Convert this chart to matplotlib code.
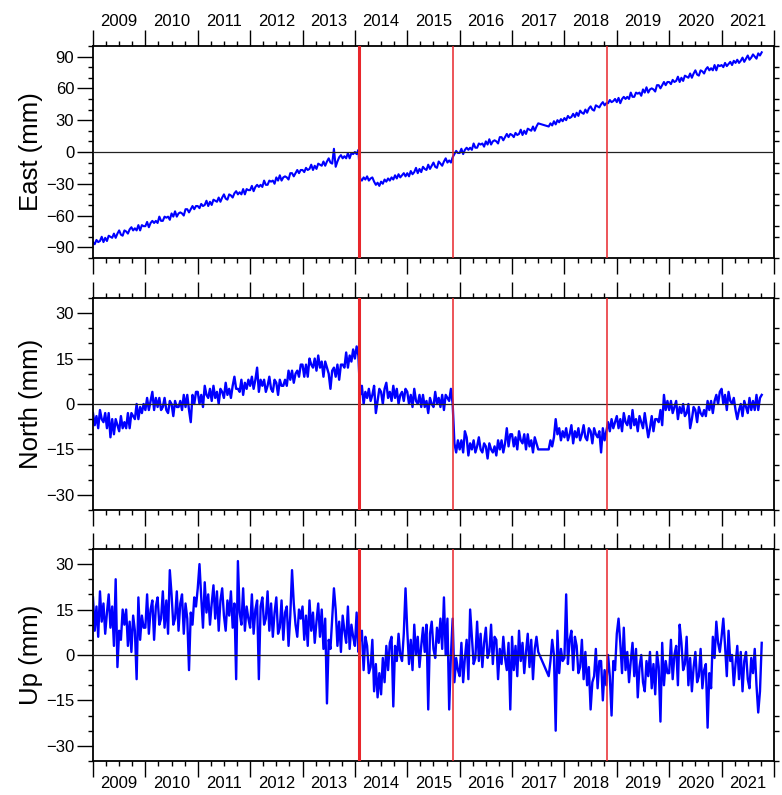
import numpy as np
import matplotlib.pyplot as plt
from matplotlib.ticker import MultipleLocator

plt.rcParams['font.family'] = ['Liberation Sans', 'DejaVu Sans']

nan = np.nan

# 30 samples per year starting 2009.0 (one row per year)
per_year = 30
year_labels = list(range(2009, 2022))
breaks = [2014.08, 2015.88, 2018.82]
break_widths = [2.2, 1.1, 1.1]

east = [
    -85, -87, -83, -85, -84, -80, -85, -81, -84, -79, -80, -81, -77, -81, -77, -74, -78, -79, -74, -75, -77, -73, -71, -74, -72, -74, -69, -74, -69, -70,
    -70, -66, -71, -67, -65, -67, -65, -67, -61, -65, -65, -61, -62, -61, -64, -58, -61, -56, -61, -58, -57, -58, -60, -54, -54, -57, -54, -51, -54, -51,
    -51, -53, -49, -51, -50, -46, -51, -47, -50, -45, -46, -47, -43, -47, -43, -40, -44, -45, -40, -41, -43, -39, -37, -40, -38, -40, -35, -40, -35, -36,
    -36, -32, -37, -33, -31, -33, -31, -33, -27, -31, -31, -27, -28, -27, -30, -24, -27, -22, -27, -24, -23, -24, -26, -20, -20, -23, -20, -17, -20, -17,
    -17, -19, -15, -17, -16, -12, -17, -13, -16, -11, -12, -13, -9, -13, -9, -6, -10, -11, 3, -14, -9, -5, -3, -6, -4, -6, -1, -6, -1, -2,
    0, -2, 2, -25, -27, -24, -26, -23, -27, -25, -24, -28, -31, -29, -32, -28, -30, -26, -28, -25, -27, -24, -26, -22, -25, -21, -24, -22, -20, -23,
    -20, -23, -18, -21, -19, -15, -20, -16, -19, -14, -16, -17, -12, -16, -13, -10, -14, -15, -9, -11, -13, -9, -6, -10, -8, -10, -5, -2, 1, -1,
    -1, 3, -2, 2, 4, 2, 4, 2, 8, 4, 4, 8, 7, 8, 5, 10, 7, 12, 7, 10, 11, 10, 8, 14, 14, 11, 14, 17, 14, 17,
    16, 14, 18, 16, 17, 21, 16, 20, 17, 22, 21, 20, 24, 20, 24, 27, nan, nan, nan, nan, nan, 24, 27, 25, 29, 26, 30, 28, 31, 29,
    32, 30, 34, 32, 33, 36, 33, 37, 34, 39, 37, 36, 40, 37, 41, 43, 40, 39, 44, 43, 42, 45, 47, 44, 46, 46, 49, 47, 48, 50,
    47, 51, 46, 50, 52, 50, 52, 50, 56, 52, 52, 56, 55, 56, 53, 59, 56, 61, 56, 59, 60, 59, 57, 63, 63, 60, 63, 66, 63, 66,
    66, 64, 68, 66, 67, 71, 66, 70, 67, 72, 71, 70, 74, 70, 74, 77, 73, 72, 77, 76, 74, 78, 80, 77, 79, 77, 82, 77, 82, 81,
    82, 80, 84, 81, 83, 85, 82, 86, 84, 87, 84, 86, 89, 85, 88, 91, 87, 89, 92, 90, 88, 93, 91, 94,
]

north = [
    -3, -7, -4, -8, -2, -5, -6, -3, -8, -3, -11, -5, -10, -5, -7, -9, -4, -8, -6, -8, -3, -8, -3, -4, -5, 0, -5, -1, -3, 0,
    -2, 2, -2, 1, 4, -2, 2, -1, 2, -2, -1, 2, -2, -3, 1, 0, -4, 1, -1, -1, 1, -2, 3, -1, 3, -2, -6, 3, 0, 4,
    4, 0, 3, -1, 6, 3, 2, 5, 1, 6, 2, 4, 0, 5, 4, 2, 7, 3, 5, 2, 6, 9, 5, 5, 4, 8, 3, 7, 5, 8,
    6, 9, 5, 8, 12, 4, 8, 6, 8, 4, 6, 9, 5, 4, 8, 7, 3, 8, 6, 6, 8, 6, 11, 8, 11, 7, 10, 11, 9, 13,
    13, 9, 13, 9, 15, 13, 12, 15, 11, 16, 12, 14, 9, 14, 12, 10, 5, 11, 12, 9, 13, 8, 13, 13, 12, 17, 12, 16, 14, 18,
    15, 19, 16, 3, 6, 0, 4, 2, 5, 1, 3, 6, -3, 1, 5, 4, 0, 5, 7, 2, 4, 1, 6, 2, 5, 0, 3, 4, 1, 5,
    4, 0, 3, -1, 5, 1, 0, 3, -1, 3, -1, 1, -3, 2, 0, -1, 4, 0, 2, -1, 3, -2, 3, 2, 1, 5, 0, -13, -16, -12,
    -15, -12, -16, -9, -11, -17, -13, -15, -12, -16, -14, -11, -15, -16, -13, -14, -18, -13, -15, -16, -14, -17, -12, -15, -12, -16, -13, -8, -14, -10,
    -10, -14, -11, -15, -9, -12, -13, -10, -15, -10, -14, -12, -16, -11, -13, -15, nan, nan, nan, nan, nan, -15, -12, -14, -11, -5, -10, -8, -12, -9,
    -11, -8, -12, -10, -7, -13, -9, -11, -8, -12, -10, -7, -11, -12, -8, -9, -13, -8, -10, -11, -9, -16, -8, -12, -9, -6, -9, -5, -8, -6,
    -4, -8, -5, -9, -3, -6, -7, -4, -8, -2, -7, -5, -9, -4, -6, -8, -3, -7, -11, -8, -4, -9, -5, -5, -6, -2, -7, 3, -2, 1,
    -2, 1, -3, -1, 1, -5, -1, -3, 0, -4, -3, 0, -8, -5, -1, -2, -6, -1, -3, -4, -2, -4, 1, -2, 1, -3, 1, 3, 0, 4,
    5, 0, 3, -2, 4, 1, 0, 2, -2, -5, -2, 0, -4, 1, -1, -3, 2, -2, 1, -2, 3, -2, 2, 3,
]

up = [
    19, 8, 16, 6, 21, 11, 17, 7, 14, 20, 9, 16, 3, 25, -4, 8, 5, 15, 10, 15, 3, 11, 1, 13, 8, -8, 19, 5, 13, 9,
    9, 20, 7, 15, 18, 5, 16, 19, 10, 12, 21, 9, 18, 7, 28, 20, 10, 12, 21, 8, 17, 20, 7, 17, 12, -5, 14, 10, 19, 16,
    22, 30, 19, 9, 24, 14, 20, 10, 17, 23, 12, 21, 8, 18, 22, 13, 8, 18, 13, 21, 9, 17, -8, 31, 14, 10, 22, 8, 16, 12,
    9, 20, 7, 15, 18, -8, 16, 19, 10, 12, 21, 8, 17, 6, 14, 19, 7, 9, 18, 5, 14, 16, 3, 13, 28, 17, 10, 6, 15, 12,
    16, 5, 13, 3, 18, 8, 14, 4, 11, 17, 6, 15, 2, 12, -16, 5, 2, 12, 22, 15, 3, 11, 1, 13, 8, 4, 16, 2, 10, 6,
    3, 14, 1, 5, 8, -5, 6, 3, -6, -4, 5, -12, -3, -14, -6, -13, -1, -9, 3, -5, 4, 6, -17, 3, -2, 7, 0, -2, 7, 22,
    8, -3, 5, -5, 10, 0, 6, -4, 3, 9, 1, 10, -18, 7, 11, 2, -1, 9, 4, 12, 2, 19, 0, 12, -18, 0, 12, -9, -1, -5,
    -7, 4, -9, -1, 5, -8, 15, 6, -3, -1, 11, -2, 7, -4, 4, 9, -1, 1, 10, -3, 6, 5, -8, 2, -3, 6, -1, -5, 4, -18,
    6, -5, 3, -7, 8, -2, 4, -6, 1, 7, -4, 5, -8, 2, 6, 1, nan, nan, nan, nan, nan, -7, -2, 5, 0, -25, 8, -6, 2, -2,
    -1, 20, -3, 5, 8, -5, 6, 3, -6, -4, 5, -8, 1, -10, -4, -18, -9, -7, 2, -11, -2, -2, -15, -5, -10, 0, -7, -20, -2, -5,
    7, 12, 4, -6, 9, -5, 1, -9, -2, 4, -7, 2, -14, -4, 0, -9, -12, -2, -7, 1, -11, -3, -13, 1, -4, -22, 4, -10, -2, -6,
    -6, 5, -8, 0, 3, -10, 10, 4, -5, -3, 6, -10, -1, -12, -4, 1, -9, -7, 2, -11, -5, -3, -24, -6, -11, 6, -1, 11, 4, 1,
    6, 12, 3, -7, 8, -2, 0, -10, -3, 3, -8, 1, -12, -2, 1, -8, -11, -1, -6, 2, -10, -19, -12, 4,
]

panels = [
    ("East (mm)", east, 100, 30, 10, 1.5),
    ("North (mm)", north, 35, 15, 5, 1.7),
    ("Up (mm)", up, 35, 15, 5, 1.7),
]
bottoms = [0.6755, 0.3585, 0.0428]

fig = plt.figure(figsize=(7.82, 7.95), dpi=100)

for k, (label, vals, lim, major, minor, lw) in enumerate(panels):
    ax = fig.add_axes([0.1189, bottoms[k], 0.8708, 0.2667])
    v = np.array(vals, dtype=float)
    t = 2009 + np.arange(len(v)) / per_year
    ok = ~np.isnan(v)
    ax.plot(t[ok], v[ok], color='#0000ff', lw=lw, zorder=2)
    ax.axhline(0, color='#222222', lw=0.9, zorder=3)
    for b, w in zip(breaks, break_widths):
        ax.axvline(b, color='#e8262b', lw=w, zorder=4)

    ax.set_xlim(2009, 2022)
    ax.set_ylim(-lim, lim)
    ax.set_ylabel(label, fontsize=18.5)
    ax.yaxis.set_label_coords(-0.073, 0.5)

    for s in ax.spines.values():
        s.set_linewidth(1.3)

    ax.xaxis.set_major_locator(MultipleLocator(1))
    ax.xaxis.set_minor_locator(MultipleLocator(0.25))
    ax.tick_params(axis='x', which='both', direction='out', top=True, bottom=True,
                   labeltop=False, labelbottom=False, width=1.0)
    ax.tick_params(axis='x', which='major', length=11.5)
    ax.tick_params(axis='x', which='minor', length=3.6)
    for tk in ax.xaxis.get_major_ticks():
        if abs(tk.get_loc() - 2017) < 0.01:
            tk.tick1line.set_color('#aaaaaa')
            tk.tick2line.set_color('#aaaaaa')

    ax.set_yticks(np.arange(-(lim // major) * major, lim + 0.1, major))
    ax.yaxis.set_minor_locator(MultipleLocator(minor))
    ax.tick_params(axis='y', which='major', direction='out', length=11.5, width=1.0,
                   labelsize=12, pad=2)
    ax.tick_params(axis='y', which='minor', direction='out', length=3.6, width=1.0,
                   right=True)

    if k == 0:
        for yr in year_labels:
            ax.annotate(str(yr), (yr + 0.5, 1), xycoords=('data', 'axes fraction'),
                        xytext=(0, 12), textcoords='offset points',
                        ha='center', va='bottom', fontsize=12)
    if k == 2:
        for yr in year_labels:
            ax.annotate(str(yr), (yr + 0.5, 0), xycoords=('data', 'axes fraction'),
                        xytext=(0, -11), textcoords='offset points',
                        ha='center', va='top', fontsize=12)

fig.savefig('out.png', dpi=100)
